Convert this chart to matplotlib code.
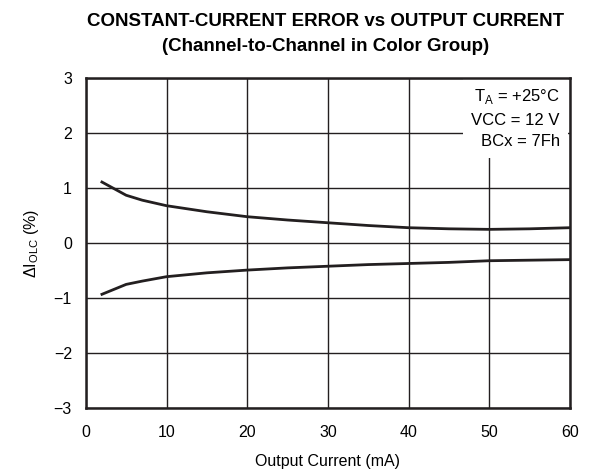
import matplotlib
matplotlib.use("Agg")
import matplotlib.pyplot as plt

plt.rcParams["font.family"] = ["Liberation Sans", "DejaVu Sans"]
plt.rcParams["mathtext.fontset"] = "custom"
plt.rcParams["mathtext.rm"] = "Liberation Sans"

# upper / lower channel-to-channel error curves
current_ma = [2, 5, 7, 10, 15, 20, 25, 30, 35, 40, 45, 50, 55, 60]
err_upper = [1.11, 0.87, 0.78, 0.68, 0.57, 0.48, 0.42, 0.37, 0.32, 0.28, 0.26, 0.25, 0.26, 0.28]
err_lower = [-0.93, -0.75, -0.69, -0.61, -0.54, -0.49, -0.45, -0.42, -0.39, -0.37, -0.35, -0.32, -0.31, -0.30]

x_ticks = [0, 10, 20, 30, 40, 50, 60]
y_ticks = [-3, -2, -1, 0, 1, 2, 3]

fig = plt.figure(figsize=(6.0, 4.73), dpi=100)
ax = fig.add_axes([0.143, 0.137, 0.807, 0.698])

ax.plot(current_ma, err_upper, color="#231f20", linewidth=2.0)
ax.plot(current_ma, err_lower, color="#231f20", linewidth=2.0)

ax.set_xlim(0, 60)
ax.set_ylim(-3, 3)
ax.set_xticks(x_ticks)
ax.set_yticks(y_ticks)
ax.set_yticklabels([str(v).replace("-", "\u2212") for v in y_ticks])
ax.grid(True, color="#231f20", linewidth=1.0)
ax.tick_params(length=0, labelsize=11.5)
ax.tick_params(axis="x", pad=12)
ax.tick_params(axis="y", pad=10)
for sp in ax.spines.values():
    sp.set_linewidth(1.8)
    sp.set_color("#231f20")

ax.set_xlabel("Output Current (mA)", fontsize=11.5, labelpad=10)
ax.set_ylabel(r"$\Delta$I$_{\rm OLC}$ (%)", fontsize=11.5, labelpad=9)

fig.text(0.542, 0.972, "CONSTANT-CURRENT ERROR vs OUTPUT CURRENT\n(Channel-to-Channel in Color Group)",
         ha="center", va="top", fontsize=13.5, fontweight="bold", linespacing=1.6)

ax.text(0.979, 0.972, "T$_{\\rm A}$ = +25\u00b0C\nVCC = 12 V\nBCx = 7Fh",
        transform=ax.transAxes, ha="right", va="top", fontsize=12, linespacing=1.55,
        zorder=2.2, bbox=dict(boxstyle="square,pad=0.5", fc="white", ec="none"))

fig.savefig("out.png", dpi=100)
